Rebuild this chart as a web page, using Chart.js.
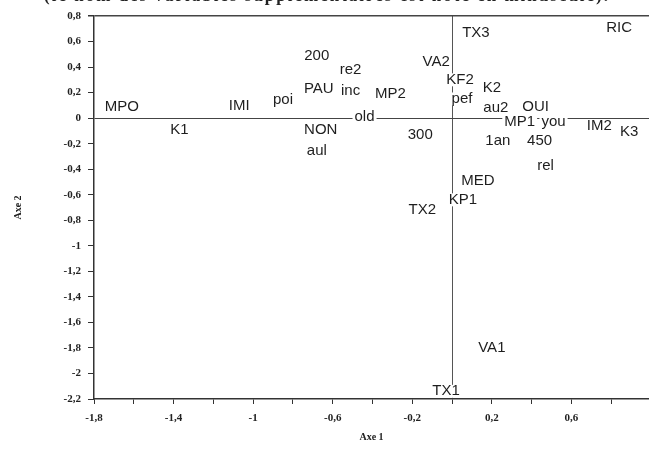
<!DOCTYPE html>
<html>
<head>
<meta charset="utf-8">
<script src="https://cdn.jsdelivr.net/npm/chart.js@4/dist/chart.umd.min.js"></script>
<style>
  html, body { margin: 0; padding: 0; background: #fff; overflow: hidden; }
  #wrap { position: relative; width: 649px; height: 450px; overflow: hidden; }
  #note { position: absolute; top: -13px; left: 44px; white-space: nowrap;
          font: bold 17px "Liberation Serif", serif; line-height: 17px; letter-spacing: 2px; color: #222; }
  canvas { position: absolute; left: 0; top: 0; }
</style>
</head>
<body>
<div id="wrap">
  <canvas id="c" width="649" height="450"></canvas>
  <div id="note">(le nom des variables supplémentaires est noté en minuscule).</div>
</div>
<script>
// Category labels of the correspondence-analysis plot
const pointLabels = ['MPO','K1','IMI','poi','200','PAU','re2','inc','MP2','NON','aul','old','300',
  'VA2','TX3','KF2','pef','K2','au2','OUI','MP1','you','1an','450','rel','MED','KP1','TX2',
  'IM2','K3','RIC','VA1','TX1'];
// Axe 1 coordinates
const axe1 = [-1.66,-1.37,-1.07,-0.85,-0.68,-0.67,-0.51,-0.51,-0.31,-0.66,-0.68,-0.44,-0.16,
  -0.08,0.12,0.04,0.05,0.20,0.22,0.42,0.34,0.51,0.23,0.44,0.47,0.13,0.055,-0.15,
  0.74,0.89,0.84,0.20,-0.03];
// Axe 2 coordinates
const axe2 = [0.09,-0.09,0.10,0.14,0.49,0.23,0.38,0.21,0.19,-0.09,-0.26,0.01,-0.13,
  0.44,0.67,0.30,0.15,0.24,0.08,0.09,-0.03,-0.03,-0.18,-0.18,-0.37,-0.49,-0.64,-0.72,
  -0.06,-0.11,0.71,-1.80,-2.14];
// Tick labels shown on the x axis
const xTickLabels = [-1.8,-1.4,-1.0,-0.6,-0.2,0.2,0.6];

const fmt = v => String(Math.round(v * 10) / 10).replace('.', ',');
const r10 = v => Math.round(v * 10);

const labelPlugin = {
  id: 'pointText',
  afterDatasetsDraw(chart) {
    const ctx = chart.ctx;
    const meta = chart.getDatasetMeta(0);
    ctx.save();
    ctx.font = '15px "Liberation Sans", Arial, sans-serif';
    ctx.textAlign = 'center';
    ctx.textBaseline = 'middle';
    meta.data.forEach((pt, i) => {
      const t = pointLabels[i];
      const w = ctx.measureText(t).width;
      ctx.fillStyle = '#fff';
      ctx.fillRect(pt.x - w / 2 - 2, pt.y - 6.5, w + 4, 13);
      ctx.fillStyle = '#1e1e1e';
      ctx.fillText(t, pt.x, pt.y);
    });
    ctx.restore();
  }
};

new Chart(document.getElementById('c'), {
  type: 'scatter',
  data: {
    datasets: [{
      data: axe1.map((x, i) => ({ x: x, y: axe2[i] })),
      pointRadius: 0,
      pointHoverRadius: 0,
      showLine: false
    }]
  },
  options: {
    responsive: false,
    animation: false,
    events: [],
    layout: { padding: { top: 16, left: 0, right: 0, bottom: 0 } },
    plugins: { legend: { display: false }, tooltip: { enabled: false } },
    scales: {
      x: {
        type: 'linear',
        min: -1.8, max: 0.99,
        afterFit: s => { s.height = 51; },
        ticks: {
          stepSize: 0.2, includeBounds: false, autoSkip: false, maxRotation: 0,
          padding: 8, color: '#222',
          font: { family: '"Liberation Serif", serif', size: 11, weight: 'bold' },
          callback: v => xTickLabels.some(t => r10(t) === r10(v)) ? fmt(v) : ''
        },
        grid: {
          color: c => (c.tick && r10(c.tick.value) === 0) ? '#555' : 'rgba(0,0,0,0)',
          lineWidth: 1,
          tickColor: '#333', tickLength: 5, drawTicks: true
        },
        border: { display: true, color: '#333', width: 1.5, z: 1 },
        title: {
          display: true, text: 'Axe 1', color: '#222',
          font: { family: '"Liberation Serif", serif', size: 10, weight: 'bold' },
          padding: { top: 0, bottom: 7 }
        }
      },
      y: {
        type: 'linear',
        min: -2.2, max: 0.8,
        afterFit: s => { s.width = 94; },
        ticks: {
          stepSize: 0.2, autoSkip: false, padding: 7, color: '#222',
          font: { family: '"Liberation Serif", serif', size: 11, weight: 'bold' },
          callback: v => fmt(v)
        },
        grid: {
          color: c => (c.tick && (r10(c.tick.value) === 0 || r10(c.tick.value) === 8)) ? '#444' : 'rgba(0,0,0,0)',
          lineWidth: c => (c.tick && r10(c.tick.value) === 8) ? 1.5 : 1,
          tickColor: '#333', tickLength: 6, drawTicks: true
        },
        border: { display: true, color: '#333', width: 1.5, z: 1 },
        title: {
          display: true, text: 'Axe 2', color: '#222',
          font: { family: '"Liberation Serif", serif', size: 10, weight: 'bold' },
          padding: { top: 12, bottom: 0 }
        }
      }
    }
  },
  plugins: [labelPlugin]
});
</script>
</body>
</html>
